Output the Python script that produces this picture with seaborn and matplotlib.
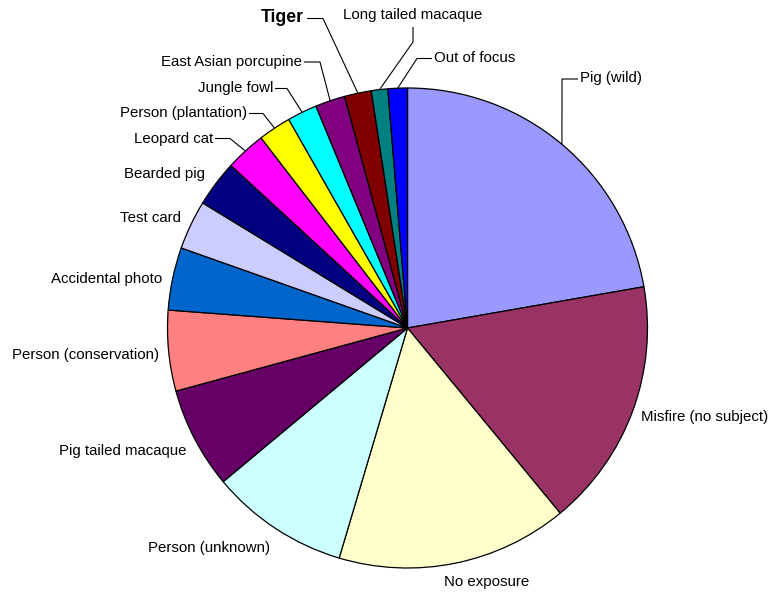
import numpy as np
import matplotlib
matplotlib.use("Agg")
import matplotlib.pyplot as plt
import seaborn as sns

# Share of camera-trap photos by subject (percent)
categories = [
    "Pig (wild)", "Misfire (no subject)", "No exposure", "Person (unknown)",
    "Pig tailed macaque", "Person (conservation)", "Accidental photo",
    "Test card", "Bearded pig", "Leopard cat", "Person (plantation)",
    "Jungle fowl", "East Asian porcupine", "Tiger", "Long tailed macaque",
    "Out of focus",
]
shares = [22.15, 16.7, 15.5, 9.3, 6.8, 5.4, 4.2, 3.3, 3.1, 2.7, 2.2,
          2.0, 2.0, 1.8, 1.1, 1.3]
colors = [
    "#9999FF", "#993366", "#FFFFCC", "#CCFFFF", "#660066", "#FF8080",
    "#0066CC", "#CCCCFF", "#000080", "#FF00FF", "#FFFF00", "#00FFFF",
    "#800080", "#800000", "#008080", "#0000FF",
]

sns.set_theme(style="white")
plt.rcParams["font.family"] = ["Liberation Sans", "DejaVu Sans"]

W, H = 771, 593
CX, CY, R = 407.5, 328.0, 240.0

fig = plt.figure(figsize=(W / 100, H / 100), dpi=100)
ax = fig.add_axes([0, 0, 1, 1])
wedges, _ = ax.pie(
    shares, colors=colors, startangle=90, counterclock=False, radius=1,
    wedgeprops=dict(edgecolor="black", linewidth=0.9),
)
ax.set_xlim(-CX / R, (W - CX) / R)
ax.set_ylim(-(H - CY) / R, CY / R)
ax.set_aspect("auto")
ax.axis("off")


def to_data(x, y):
    return ((x - CX) / R, (CY - y) / R)


# label placement in pixel space: text anchor, alignment, leader bends
label_layout = {
    "Pig (wild)": dict(pos=(580, 78), ha="left", path=[(562, 79), (578, 79)]),
    "Misfire (no subject)": dict(pos=(641, 417), ha="left"),
    "No exposure": dict(pos=(444, 582), ha="left"),
    "Person (unknown)": dict(pos=(270, 548), ha="right"),
    "Pig tailed macaque": dict(pos=(187, 451), ha="right"),
    "Person (conservation)": dict(pos=(159, 355), ha="right"),
    "Accidental photo": dict(pos=(162, 279), ha="right"),
    "Test card": dict(pos=(181, 218), ha="right"),
    "Bearded pig": dict(pos=(205, 174), ha="right"),
    "Leopard cat": dict(pos=(213, 139), ha="right", path=[(230, 138.5), (215, 138.5)]),
    "Person (plantation)": dict(pos=(247, 113), ha="right", path=[(263, 113.5), (249, 113.5)]),
    "Jungle fowl": dict(pos=(273, 88), ha="right", path=[(287, 88.5), (275, 88.5)]),
    "East Asian porcupine": dict(pos=(302, 62), ha="right", path=[(320, 62), (304, 62)]),
    "Tiger": dict(pos=(304, 18), ha="right", path=[(323, 18.5), (307, 18.5)],
                  weight="bold", size=12.7),
    "Long tailed macaque": dict(pos=(413, 15), ha="center", path=[(413, 42), (413, 27)]),
    "Out of focus": dict(pos=(434, 58), ha="left", path=[(417, 58.5), (432, 58.5)]),
}

for wedge, name in zip(wedges, categories):
    spec = label_layout[name]
    if "path" in spec:
        mid = np.deg2rad((wedge.theta1 + wedge.theta2) / 2)
        pts = [(np.cos(mid), np.sin(mid))] + [to_data(*p) for p in spec["path"]]
        xs, ys = zip(*pts)
        ax.plot(xs, ys, color="black", linewidth=0.8, solid_capstyle="butt")
    tx, ty = to_data(*spec["pos"])
    ax.text(tx, ty, name, ha=spec["ha"], va="center",
            fontsize=spec.get("size", 10.8), fontweight=spec.get("weight", "normal"),
            color="black")

fig.savefig("out.png", dpi=100, facecolor="white")
